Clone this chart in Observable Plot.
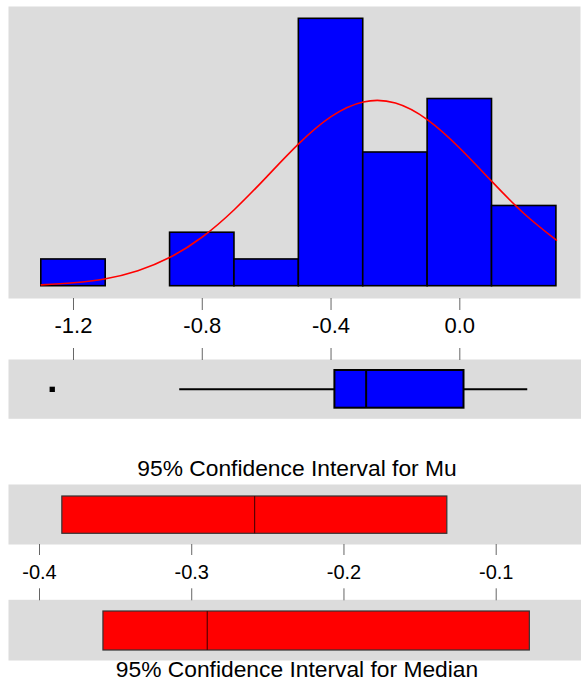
<!DOCTYPE html>
<html>
<head>
<meta charset="utf-8">
<script src="https://cdn.jsdelivr.net/npm/d3@7"></script>
<script src="https://cdn.jsdelivr.net/npm/@observablehq/plot@0.6"></script>
<style>
  html, body { margin: 0; padding: 0; background: #fff; }
  #wrap { position: relative; width: 581px; height: 683px; overflow: hidden; font-family: "Liberation Sans", Arial, sans-serif; }
  #wrap > div { position: absolute; left: 0; }
  .ttl { width: 594px; text-align: center; font-size: 22.8px; line-height: 22.8px; color: #000; white-space: nowrap; }
  svg { display: block; }
</style>
</head>
<body>
<div id="wrap">
  <div id="hist" style="top:0px"></div>
  <div id="box" style="top:340px"></div>
  <div class="ttl" style="top:457px">95% Confidence Interval for Mu</div>
  <div id="mu" style="top:484px"></div>
  <div id="med" style="top:585px"></div>
  <div class="ttl" style="top:658px">95% Confidence Interval for Median</div>
</div>
<script>
// ---------- data ----------
const binLo  = [-1.3, -1.1, -0.9, -0.7, -0.5, -0.3, -0.1, 0.1];
const binHi  = [-1.1, -0.9, -0.7, -0.5, -0.3, -0.1, 0.1, 0.3];
const counts = [1, 0, 2, 1, 10, 5, 7, 3];

// fitted normal curve (in count units)
const curveX = [-1.3, -1.2, -1.1, -1.0, -0.9, -0.8, -0.7, -0.6, -0.5, -0.4, -0.3, -0.2, -0.1, 0.0, 0.1, 0.2, 0.3];
const curveY = [0.05, 0.13, 0.28, 0.58, 1.08, 1.84, 2.87, 4.09, 5.33, 6.34, 6.89, 6.85, 6.22, 5.16, 3.91, 2.71, 1.72];

const histTicks = [-1.2, -0.8, -0.4, 0.0];

// boxplot: lower whisker, Q1, median, Q3, upper whisker
const boxFive  = [-0.87, -0.388, -0.291, 0.013, 0.211];
const outliers = [-1.266];

// confidence intervals: [low, center, high]
const ciMu     = [-0.385, -0.2587, -0.1321];
const ciMedian = [-0.358, -0.2898, -0.0779];
const ciTicks  = [-0.4, -0.3, -0.2, -0.1];

// ---------- build ----------
const bins  = binLo.map((lo, i) => ({lo, hi: binHi[i], count: counts[i]}));
const curve = curveX.map((x, i) => ({x, y: curveY[i]}));
const box   = {lo: boxFive[0], q1: boxFive[1], med: boxFive[2], q3: boxFive[3], hi: boxFive[4]};
const fmt = d => d.toFixed(1);
const GRAY = "#dcdcdc";
const font = {fontFamily: "'Liberation Sans', Arial, sans-serif", background: "transparent", overflow: "visible"};

const histX = {domain: [-1.3, 0.3], range: [40.8, 555.9]};

// histogram
document.getElementById("hist").append(Plot.plot({
  width: 581, height: 340,
  marginLeft: 8, marginRight: 1, marginTop: 6, marginBottom: 42,
  style: font,
  x: histX,
  y: {domain: [0, 10], range: [285.7, 18.3], axis: null},
  marks: [
    Plot.frame({fill: GRAY, stroke: null}),
    Plot.rect(bins, {x1: "lo", x2: "hi", y1: 0, y2: "count", fill: "#0000ff", stroke: "#000", strokeWidth: 1.6}),
    Plot.line(curve, {x: "x", y: "y", stroke: "#ff0000", strokeWidth: 1.6, curve: "natural"}),
    Plot.axisX({ticks: histTicks, tickFormat: fmt, tickSize: 12, tickPadding: 7, fontSize: 22, stroke: "#666", color: "#000"})
  ]
}));

// boxplot
document.getElementById("box").append(Plot.plot({
  width: 581, height: 85,
  marginLeft: 8, marginRight: 0, marginTop: 19, marginBottom: 6.7,
  style: font,
  x: histX,
  y: {domain: [0, 1], range: [67.7, 30], axis: null},
  marks: [
    Plot.frame({fill: GRAY, stroke: null}),
    Plot.axisX({anchor: "top", ticks: histTicks, tickFormat: () => "", tickSize: 12, stroke: "#666"}),
    Plot.ruleY([0.5], {x1: box.lo, x2: box.q1, stroke: "#000", strokeWidth: 2}),
    Plot.ruleY([0.5], {x1: box.q3, x2: box.hi, stroke: "#000", strokeWidth: 2}),
    Plot.rect([box], {x1: "q1", x2: "q3", y1: 0, y2: 1, fill: "#0000ff", stroke: "#000", strokeWidth: 2}),
    Plot.ruleX([box], {x: "med", y1: 0, y2: 1, stroke: "#000", strokeWidth: 2}),
    Plot.dot(outliers, {x: d => d, y: 0.5, r: 3, symbol: "square", fill: "#000", stroke: null})
  ]
}));

const ciX = {domain: [-0.4, -0.1], range: [39, 495.7]};

// CI for Mu
document.getElementById("mu").append(Plot.plot({
  width: 581, height: 98,
  marginLeft: 8, marginRight: 0, marginTop: 0, marginBottom: 38,
  style: font,
  x: ciX,
  y: {domain: [0, 1], range: [49.3, 12], axis: null},
  marks: [
    Plot.frame({fill: GRAY, stroke: null}),
    Plot.rect([ciMu], {x1: d => d[0], x2: d => d[2], y1: 0, y2: 1, fill: "#ff0000", stroke: "#333", strokeWidth: 1.2}),
    Plot.ruleX([ciMu], {x: d => d[1], y1: 0, y2: 1, stroke: "#5a0000", strokeWidth: 1.2}),
    Plot.axisX({ticks: ciTicks, tickFormat: fmt, tickSize: 11, tickPadding: 9, fontSize: 20, stroke: "#666", color: "#000"})
  ]
}));

// CI for Median
document.getElementById("med").append(Plot.plot({
  width: 581, height: 76,
  marginLeft: 8, marginRight: 0, marginTop: 14.3, marginBottom: 1,
  style: font,
  x: ciX,
  y: {domain: [0, 1], range: [65, 26], axis: null},
  marks: [
    Plot.frame({fill: GRAY, stroke: null}),
    Plot.axisX({anchor: "top", ticks: ciTicks, tickFormat: () => "", tickSize: 12, stroke: "#666"}),
    Plot.rect([ciMedian], {x1: d => d[0], x2: d => d[2], y1: 0, y2: 1, fill: "#ff0000", stroke: "#333", strokeWidth: 1.2}),
    Plot.ruleX([ciMedian], {x: d => d[1], y1: 0, y2: 1, stroke: "#5a0000", strokeWidth: 1.2})
  ]
}));
</script>
</body>
</html>
